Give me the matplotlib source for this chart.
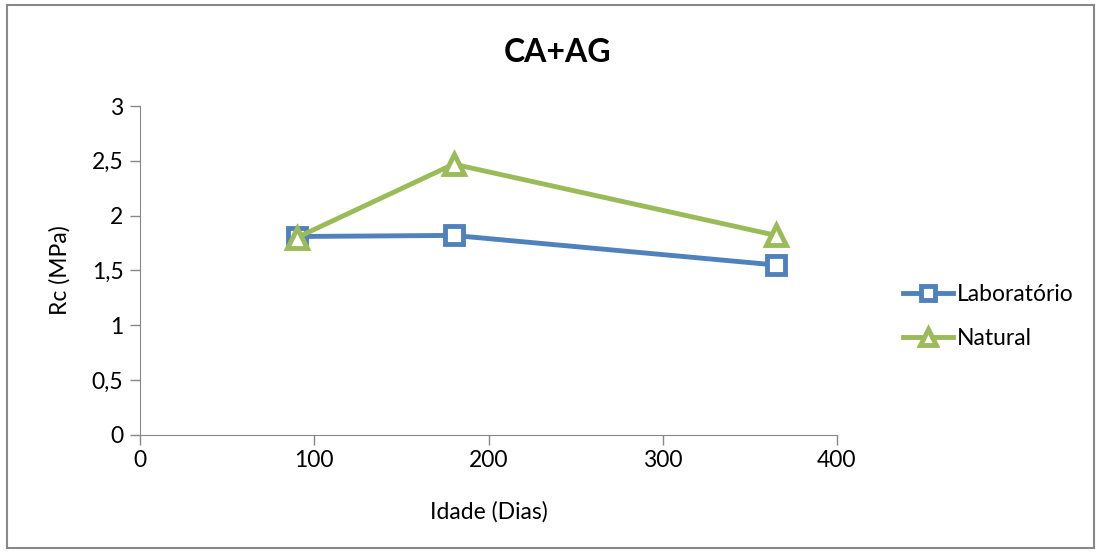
import matplotlib
matplotlib.use("Agg")
import matplotlib.pyplot as plt
from matplotlib.patches import Rectangle

plt.rcParams["font.family"] = ["Lato", "DejaVu Sans"]

idade = [90, 180, 365]
rc_laboratorio = [1.81, 1.82, 1.55]
rc_natural = [1.80, 2.47, 1.82]

x_ticks = [0, 100, 200, 300, 400]
y_ticks = [0, 0.5, 1, 1.5, 2, 2.5, 3]
y_labels = ["0", "0,5", "1", "1,5", "2", "2,5", "3"]

fig = plt.figure(figsize=(11.01, 5.53), dpi=100)
ax = fig.add_axes([0.1272, 0.2134, 0.633, 0.5949])

fig.patches.append(Rectangle((0.006, 0.009), 0.988, 0.982, transform=fig.transFigure,
                             fill=False, edgecolor="#888888", lw=1.5))

ax.plot(idade, rc_laboratorio, "-s", color="#4F81BD", lw=3.5, ms=13, mew=3.5,
        mfc="white", mec="#4F81BD", label="Laboratório")
ax.plot(idade, rc_natural, "-^", color="#9BBB59", lw=3.5, ms=14, mew=3.5,
        mfc="white", mec="#9BBB59", label="Natural")

ax.set_xlim(0, 400)
ax.set_ylim(0, 3)
ax.set_xticks(x_ticks)
ax.set_yticks(y_ticks)
ax.set_yticklabels(y_labels)
ax.tick_params(labelsize=16.5, color="#888888", length=7, width=1)
ax.tick_params(axis="y", pad=5)
for side in ("top", "right"):
    ax.spines[side].set_visible(False)
for side in ("left", "bottom"):
    ax.spines[side].set_color("#888888")

ax.set_xlabel("Idade (Dias)", fontsize=16.5, labelpad=22)
ax.set_ylabel("Rc (MPa)", fontsize=16.5, labelpad=15)
fig.text(0.506, 0.905, "CA+AG", ha="center", va="center", fontsize=23, fontweight="bold")

fig.legend(loc="center left", bbox_to_anchor=(0.801, 0.427), frameon=False, fontsize=16.5,
           handlelength=2.2, labelspacing=1.0, handletextpad=0.15, markerscale=0.8)

fig.savefig("out.png", dpi=100)
